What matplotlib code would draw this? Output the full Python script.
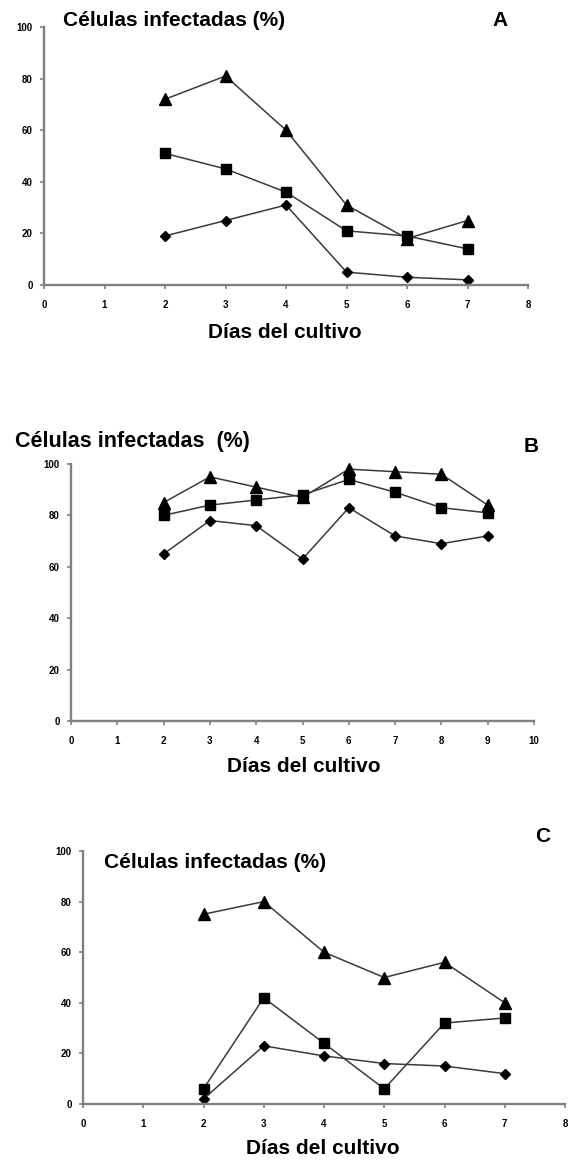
import matplotlib
matplotlib.use("Agg")
import matplotlib.pyplot as plt

plt.rcParams['font.family'] = ['Liberation Sans', 'DejaVu Sans']

# Panel A
days_a = [2, 3, 4, 5, 6, 7]
tri_a = [72, 81, 60, 31, 18, 25]
sq_a = [51, 45, 36, 21, 19, 14]
dia_a = [19, 25, 31, 5, 3, 2]

# Panel B
days_b = [2, 3, 4, 5, 6, 7, 8, 9]
tri_b = [85, 95, 91, 87, 98, 97, 96, 84]
sq_b = [80, 84, 86, 88, 94, 89, 83, 81]
dia_b = [65, 78, 76, 63, 83, 72, 69, 72]

# Panel C
days_c = [2, 3, 4, 5, 6, 7]
tri_c = [75, 80, 60, 50, 56, 40]
sq_c = [6, 42, 24, 6, 32, 34]
dia_c = [2, 23, 19, 16, 15, 12]

yticks = [0, 20, 40, 60, 80, 100]
title_txt = "Células infectadas (%)"
title_txt_b = "Células infectadas  (%)"
xlabel_txt = "Días del cultivo"

W, H = 568, 1160
fig = plt.figure(figsize=(W / 100, H / 100), dpi=100)


def box(l, t, r, b):
    return [l / W, 1 - b / H, (r - l) / W, (b - t) / H]


def style(ax, xmax):
    for s in ['top', 'right']:
        ax.spines[s].set_visible(False)
    for s in ['left', 'bottom']:
        ax.spines[s].set_color('#808080')
        ax.spines[s].set_linewidth(1.7)
    ax.set_xlim(0, xmax)
    ax.set_ylim(0, 100)
    ax.set_xticks(range(0, xmax + 1))
    ax.set_yticks(yticks)
    ax.tick_params(axis='both', direction='out', length=3, width=1.2,
                   color='#808080', labelsize=7)
    ax.tick_params(axis='x', pad=8)
    ax.tick_params(axis='y', pad=5)
    for lab in ax.get_xticklabels() + ax.get_yticklabels():
        lab.set_fontweight('bold')


def plot_series(ax, x, tri, sq, dia):
    kw = dict(color='#3a3a3a', lw=1.1, mfc='black', mec='black', clip_on=False)
    ax.plot(x, tri, marker='^', ms=8, **kw)
    ax.plot(x, sq, marker='s', ms=7.5, **kw)
    ax.plot(x, dia, marker='D', ms=5, **kw)


# Panel A
axA = fig.add_axes(box(44, 27, 528, 285))
style(axA, 8)
plot_series(axA, days_a, tri_a, sq_a, dia_a)
fig.text(63 / W, 1 - 21 / H, title_txt, fontsize=15, fontweight='bold', va='center', ha='left')
fig.text(500 / W, 1 - 20 / H, "A", fontsize=15, fontweight='bold', va='center', ha='center')
fig.text(285 / W, 1 - 333 / H, xlabel_txt, fontsize=15, fontweight='bold', va='center', ha='center')

# Panel B
axB = fig.add_axes(box(71, 464, 534, 721))
style(axB, 10)
plot_series(axB, days_b, tri_b, sq_b, dia_b)
fig.text(15 / W, 1 - 442 / H, title_txt_b, fontsize=15.5, fontweight='bold', va='center', ha='left')
fig.text(531 / W, 1 - 447 / H, "B", fontsize=15, fontweight='bold', va='center', ha='center')
fig.text(304 / W, 1 - 767 / H, xlabel_txt, fontsize=15, fontweight='bold', va='center', ha='center')

# Panel C
axC = fig.add_axes(box(83, 851, 565, 1104))
style(axC, 8)
plot_series(axC, days_c, tri_c, sq_c, dia_c)
fig.text(104 / W, 1 - 862 / H, title_txt, fontsize=15, fontweight='bold', va='center', ha='left')
fig.text(543 / W, 1 - 836 / H, "C", fontsize=15, fontweight='bold', va='center', ha='center')
fig.text(323 / W, 1 - 1148 / H, xlabel_txt, fontsize=15, fontweight='bold', va='center', ha='center')

fig.savefig("out.png", dpi=100, facecolor='white')
